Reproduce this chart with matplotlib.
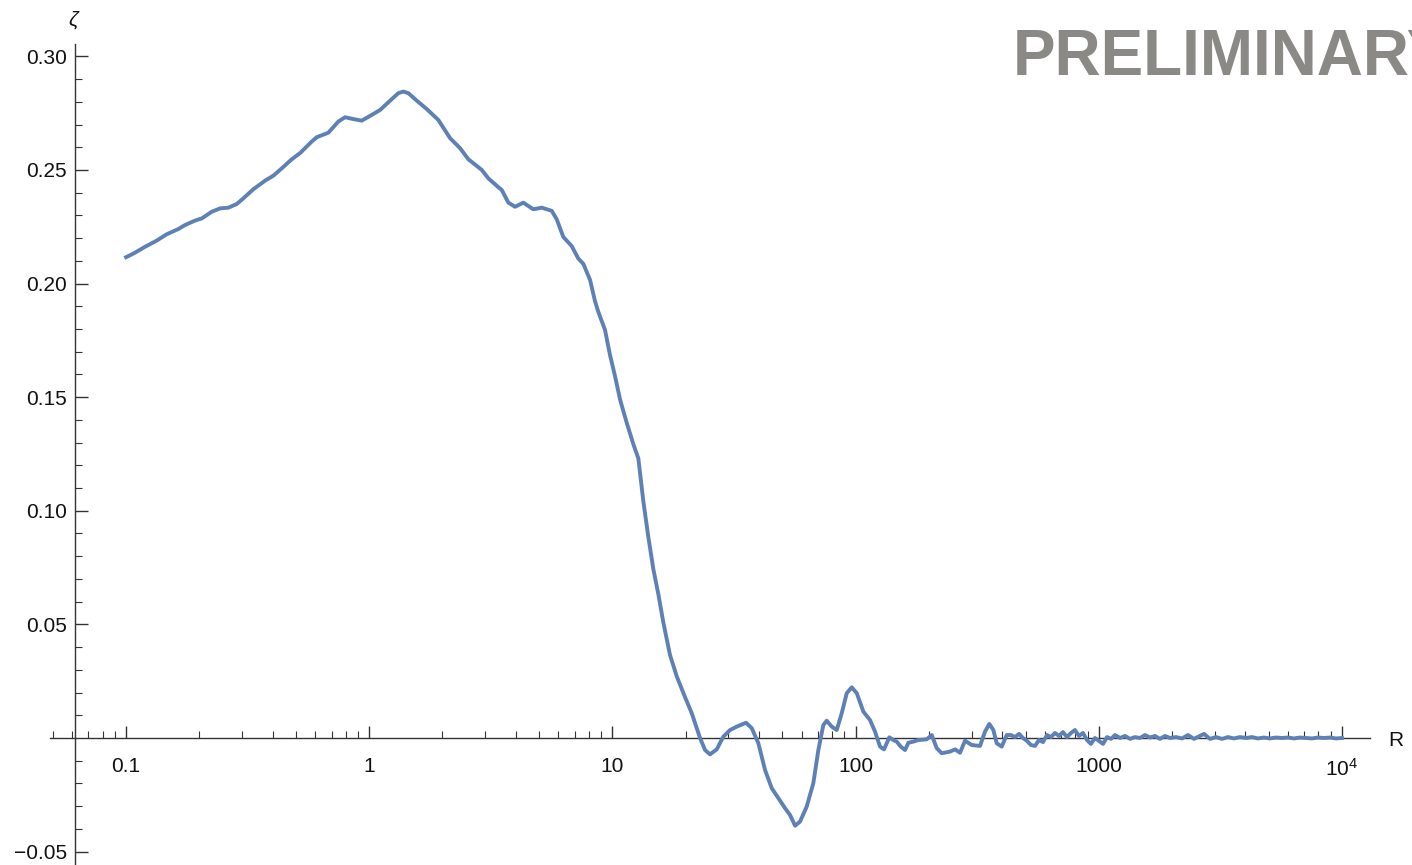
import numpy as np
import matplotlib
matplotlib.use("Agg")
import matplotlib.pyplot as plt
from matplotlib.ticker import FixedLocator, FixedFormatter

# values
R = [0.100, 0.1089, 0.1197, 0.1336, 0.1469, 0.164, 0.175, 0.192, 0.205, 0.225,
     0.2436, 0.2635, 0.285, 0.3035, 0.3335, 0.373, 0.4035, 0.4365, 0.480, 0.519,
     0.580, 0.608, 0.679, 0.746, 0.795, 0.860, 0.931, 1.008, 1.108, 1.218,
     1.317, 1.381, 1.448, 1.568, 1.724, 1.923, 2.149, 2.362, 2.556, 2.902,
     3.088, 3.395, 3.506, 3.733, 3.977, 4.301, 4.729, 5.121, 5.63, 5.90,
     6.28, 6.80, 7.24, 7.59, 8.09, 8.48, 8.75, 9.32, 9.77, 10.25,
     10.75, 11.45, 12.19, 12.78, 13.40, 14.05, 14.73, 15.45, 16.20, 17.25,
     18.39, 19.88, 21.19, 22.92, 24.03, 25.19, 26.85, 28.58, 30.45, 32.44,
     35.43, 37.41, 39.81, 42.42, 45.19, 48.11, 51.27, 53.76, 56.36, 59.08,
     62.93, 67.00, 70.26, 73.66, 76.07, 79.76, 83.62, 87.68, 91.92, 96.38,
     101.1, 107.6, 114.6, 120.2, 126.0, 130.9, 137.6, 142.9, 147.6, 153.3,
     159.7, 164.8, 172.7, 181.1, 196.1, 205.6, 215.6, 226.0, 244.5, 256.3,
     268.8, 281.8, 300.3, 324.8, 340.5, 354.7, 368.4, 380.4, 398.8, 418.1,
     435.5, 452.3, 469.8, 487.9, 506.7, 526.3, 546.6, 567.7, 589.6, 612.4,
     636.0, 660.6, 686.1, 712.5, 740.0, 768.6, 798.1, 829.0, 861.0, 894.3,
     928.7, 964.7, 1002, 1041, 1081, 1123, 1166, 1223, 1282, 1344,
     1409, 1477, 1549, 1624, 1702, 1784, 1871, 1962, 2077, 2199,
     2327, 2463, 2607, 2708, 2866, 3034, 3211, 3398, 3597, 3808,
     4030, 4266, 4515, 4779, 5057, 5353, 5666, 5998, 6348, 6719,
     7112, 7527, 7968, 8433, 8927, 9448, 10000]

zeta = [0.2116, 0.2136, 0.2162, 0.2189, 0.2217, 0.2240, 0.2258, 0.2277, 0.2287, 0.2316,
        0.2331, 0.2334, 0.2350, 0.2375, 0.2415, 0.2453, 0.2475, 0.2507, 0.2547, 0.2574,
        0.2625, 0.2644, 0.2664, 0.2713, 0.2732, 0.2724, 0.2717, 0.2738, 0.2764, 0.2805,
        0.2838, 0.2845, 0.2838, 0.2805, 0.2768, 0.2720, 0.2640, 0.2596, 0.2547, 0.2500,
        0.2463, 0.2424, 0.2412, 0.2356, 0.2338, 0.2356, 0.2327, 0.2334, 0.2320, 0.2283,
        0.2205, 0.2165, 0.2110, 0.2087, 0.2016, 0.1922, 0.1875, 0.1796, 0.1686, 0.1592,
        0.1489, 0.1387, 0.1293, 0.1230, 0.1041, 0.0884, 0.0743, 0.0632, 0.0507, 0.0365,
        0.0271, 0.0180, 0.0109, 0.0000, -0.0053, -0.0072, -0.0050, 0.0006, 0.0035, 0.0050,
        0.0067, 0.0043, -0.0023, -0.0141, -0.0221, -0.0265, -0.0309, -0.0339, -0.0386, -0.0368,
        -0.0302, -0.0199, -0.0053, 0.0057, 0.0076, 0.0050, 0.0035, 0.0109, 0.0197, 0.0223,
        0.0197, 0.0116, 0.0079, 0.0028, -0.0038, -0.0050, 0.0003, -0.0009, -0.0016, -0.0038,
        -0.0053, -0.0021, -0.0016, -0.0009, -0.0006, 0.0013, -0.0045, -0.0067, -0.0060, -0.0050,
        -0.0065, -0.0012, -0.0031, -0.0035, 0.0028, 0.0062, 0.0035, -0.0023, -0.0038, 0.0013,
        0.0013, 0.0004, 0.0018, 0.0000, -0.0013, -0.0031, -0.0035, -0.0009, -0.0018, 0.0013,
        0.0004, 0.0022, 0.0009, 0.0026, 0.0004, 0.0022, 0.0035, 0.0009, 0.0022, -0.0009,
        -0.0026, 0.0000, -0.0013, -0.0026, 0.0004, -0.0004, 0.0013, 0.0000, 0.0009, -0.0004,
        0.0004, 0.0000, 0.0013, 0.0002, 0.0009, -0.0004, 0.0009, 0.0000, 0.0004, -0.0002,
        0.0013, -0.0004, 0.0009, 0.0018, -0.0004, 0.0004, -0.0004, 0.0004, -0.0002, 0.0004,
        0.0000, 0.0004, -0.0002, 0.0002, -0.0002, 0.0002, 0.0000, 0.0002, -0.0002, 0.0002,
        0.0000, -0.0002, 0.0002, 0.0000, 0.0002, -0.0002, 0.0000]

x_major = [0.1, 1, 10, 100, 1000, 10000]
x_labels = ["0.1", "1", "10", "100", "1000", "$10^4$"]
y_major = [-0.05, 0.05, 0.10, 0.15, 0.20, 0.25, 0.30]
y_labels = ["\u22120.05", "0.05", "0.10", "0.15", "0.20", "0.25", "0.30"]

plt.rcParams["font.family"] = ["Liberation Sans", "DejaVu Sans"]
plt.rcParams["mathtext.fontset"] = "custom"
plt.rcParams["mathtext.rm"] = "Liberation Sans"
plt.rcParams["mathtext.default"] = "regular"

fig = plt.figure(figsize=(14.12, 8.65), dpi=100)
ax = fig.add_axes([0, 0, 1, 1])
ax.set_facecolor("none")

ax.plot(R, zeta, color="#5E81B5", lw=2.8, solid_joinstyle="round", zorder=3)

ax.set_xscale("log")
ax.set_xlim(0.0303, 19410)
ax.set_ylim(-0.0559, 0.3248)

for s in ["top", "right"]:
    ax.spines[s].set_visible(False)
ax.spines["left"].set_position(("data", 0.0617))
ax.spines["bottom"].set_position(("data", 0))
ax.spines["left"].set_bounds(-0.0559, 0.3053)
ax.spines["bottom"].set_bounds(0.0487, 13030)
for s in ["left", "bottom"]:
    ax.spines[s].set_color("#333333")
    ax.spines[s].set_linewidth(1.0)

minor_x = []
for dec in [0.01, 0.1, 1, 10, 100, 1000]:
    for k in range(2, 10):
        v = k * dec
        if 0.049 <= v <= 9000:
            minor_x.append(v)
ax.xaxis.set_major_locator(FixedLocator(x_major))
ax.xaxis.set_major_formatter(FixedFormatter(x_labels))
ax.xaxis.set_minor_locator(FixedLocator(minor_x))
ax.xaxis.set_minor_formatter(FixedFormatter([""] * len(minor_x)))

minor_y = [v / 100 for v in range(-5, 31) if v % 5 != 0]
ax.yaxis.set_major_locator(FixedLocator(y_major))
ax.yaxis.set_major_formatter(FixedFormatter(y_labels))
ax.yaxis.set_minor_locator(FixedLocator(minor_y))

ax.tick_params(axis="both", which="major", direction="in", length=9, width=1.0,
               color="#333333", labelsize=15, labelcolor="#111111")
ax.tick_params(axis="both", which="minor", direction="in", length=5, width=0.8,
               color="#333333")
ax.tick_params(axis="x", which="major", pad=14)
ax.tick_params(axis="y", which="major", pad=6)

fig.text(73 / 1412, 1 - 20 / 865, "\u03b6", ha="center", va="center",
         fontsize=15, style="italic", color="#111111")
fig.text(1396 / 1412, 1 - 740 / 865, "R", ha="center", va="center",
         fontsize=15, color="#111111")
fig.text(1013 / 1412, 1 - 58 / 865, "PRELIMINARY", ha="left", va="center",
         fontsize=46, fontweight="bold", color="#8a8985")

fig.savefig("out.png", dpi=100)
